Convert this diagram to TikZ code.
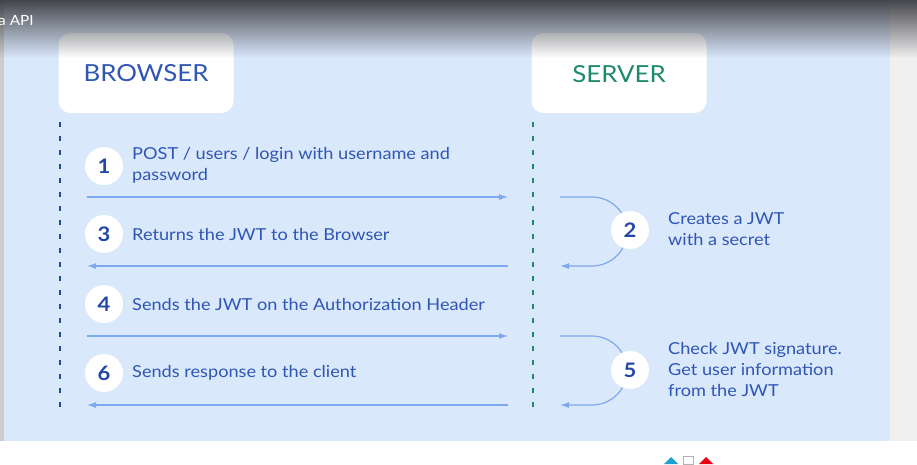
\documentclass[tikz,border=0pt]{standalone}
\usepackage{fontspec}
\setmainfont{Lato}[FakeStretch=1.1]
\usetikzlibrary{fadings,arrows.meta}
\definecolor{panel}{HTML}{DAE8FC}
\definecolor{txtblue}{HTML}{2F56B5}
\definecolor{numblue}{HTML}{2347A8}
\definecolor{srvgreen}{HTML}{1D8A6C}
\definecolor{arrowblue}{HTML}{7EA9EE}
\definecolor{darktop}{HTML}{3C3D43}
\tikzset{
  hdr/.style={fill=white, minimum width=175pt, minimum height=80pt, rounded corners=12pt, inner sep=0pt},
  hdrtxt/.style={font=\fontsize{23.5}{26}\selectfont, inner sep=0pt},
  num/.style={circle, fill=white, minimum size=38pt, inner sep=0pt, font=\bfseries\fontsize{20}{22}\selectfont, text=numblue},
  lbl/.style={anchor=west, align=left, text=txtblue, font=\fontsize{16.5}{21}\selectfont, inner sep=0pt},
  msg/.style={draw=arrowblue, line width=1.2pt, -{Latex[length=9pt,width=6pt]}},
  life/.style={line width=1.6pt, dash pattern=on 5pt off 9pt}
}
\begin{document}
\begin{tikzpicture}[x=1pt,y=-1pt]
\useasboundingbox (0,0) rectangle (917,464);
% backgrounds
\fill[white] (0,0) rectangle (917,464);
\fill[panel] (4,0) rectangle (890,441);
\fill[gray!12] (890,0) rectangle (917,441);
\fill[gray!40] (0,0) rectangle (4,441);
% header boxes
\node[hdr] (browser) at (146,73) {};
\node[hdrtxt, text=txtblue] (btxt) at (146,73) {BROWSER};
\node[hdr] (server) at (619,73) {};
\node[hdrtxt, text=srvgreen] (stxt) at (619,74) {SERVER};
% lifelines
\coordinate (b0) at (60,122); \coordinate (b1) at (60,414);
\coordinate (s0) at (533,122); \coordinate (s1) at (533,414);
\draw[life, draw=numblue] (b0) -- (b1);
\draw[life, draw=srvgreen] (s0) -- (s1);
% messages
\coordinate (a1s) at (87,197); \coordinate (a1e) at (508,197);
\coordinate (a3s) at (508,266); \coordinate (a3e) at (87,266);
\coordinate (a4s) at (87,336); \coordinate (a4e) at (508,336);
\coordinate (a6s) at (508,405); \coordinate (a6e) at (87,405);
\draw[msg] (a1s) -- (a1e);
\draw[msg] (a3s) -- (a3e);
\draw[msg] (a4s) -- (a4e);
\draw[msg] (a6s) -- (a6e);
% self loops
\coordinate (c2s) at (560,197); \coordinate (c2e) at (560,266);
\coordinate (c5s) at (560,336); \coordinate (c5e) at (560,405);
\draw[msg] (c2s) -- (592,197) to[out=0,in=90] (627,231.5) to[out=-90,in=0] (592,266) -- (c2e);
\draw[msg] (c5s) -- (592,336) to[out=0,in=90] (627,370.5) to[out=-90,in=0] (592,405) -- (c5e);
% numbers
\node[num] (n1) at (104,166) {1};
\node[num] (n3) at (104,234) {3};
\node[num] (n4) at (104,304) {4};
\node[num] (n6) at (104,373) {6};
\node[num] (n2) at (630,230) {2};
\node[num] (n5) at (630,370) {5};
% labels
\node[lbl] (t1) at (132,165) {POST / users / login with username and\\password};
\node[lbl] (t3) at (132,234) {Returns the JWT to the Browser};
\node[lbl] (t4) at (132,304) {Sends the JWT on the Authorization Header};
\node[lbl] (t6) at (132,373) {Sends response to the client};
\node[lbl] (t2) at (668,229) {Creates a JWT\\with a secret};
\node[lbl] (t5) at (668,369) {Check JWT signature.\\Get user information\\from the JWT};
% top dark overlay
\fill[darktop, path fading=south, fill opacity=0.95] (0,0) rectangle (917,58);
\node[anchor=west, text=white, font=\fontsize{14}{16}\selectfont, inner sep=0pt] (title) at (-2,21) {a API};
% bottom icons (partially visible)
\fill[cyan!70!teal] (664,464) -- (671,457) -- (678,464) -- cycle;
\draw[gray!60, line width=0.6pt] (683,456) rectangle (693,464);
\fill[red!75!purple] (699,464) -- (706,457) -- (713,464) -- cycle;
\end{tikzpicture}
\end{document}
